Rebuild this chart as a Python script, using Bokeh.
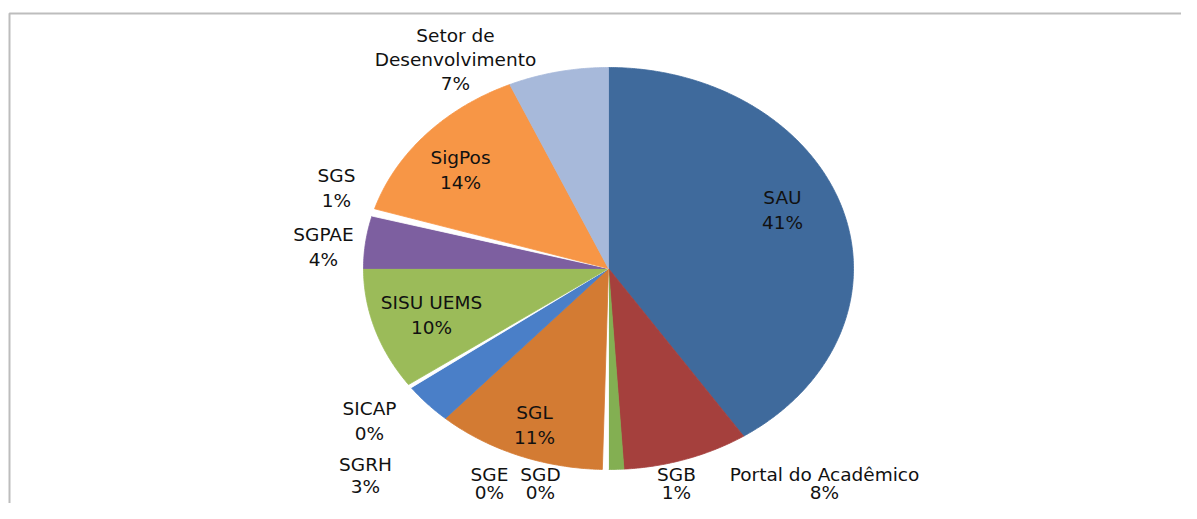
import numpy as np
from bokeh.plotting import figure
from bokeh.models import Range1d, ColumnDataSource
from bokeh.core.properties import value
from bokeh.embed import file_html
from bokeh.resources import INLINE

# ---- data ----
categories = ["SAU", "Portal do Acadêmico", "SGB", "SGD", "SGE", "SGL", "SGRH",
              "SICAP", "SISU UEMS", "SGPAE", "SGS", "SigPos", "Setor de Desenvolvimento"]
values = [40.7, 8.3, 1.0, 0.2, 0.2, 11.2, 3.3, 0.3, 9.8, 4.2, 0.6, 13.6, 6.6]

# ---- styles ----
colors = ["#3F6A9C", "#A5403D", "#83AF52", "#FFFFFF", "#FFFFFF", "#D37B33", "#4A7FC8",
          "#FFFFFF", "#9BBB59", "#7D5FA0", "#FFFFFF", "#F79646", "#A7B9DA"]

# ---- layout (picture pixel coordinates) ----
W, H = 1181, 503
cx, cy, rx, ry = 608, 268, 245, 201
label_lines = {"Setor de Desenvolvimento": ["Setor de", "Desenvolvimento"]}
label_pos = {  # (x, y of first line, line spacing)
    "SAU": (782, 197, 24.5), "Portal do Acadêmico": (824, 474, 18), "SGB": (676, 474, 18),
    "SGD": (540, 474, 18), "SGE": (489, 474, 18), "SGL": (534, 412, 24.5),
    "SGRH": (365, 464, 22), "SICAP": (369, 408, 24.5), "SISU UEMS": (431, 302, 24.5),
    "SGPAE": (323, 234, 24.5), "SGS": (336, 175, 24.5), "SigPos": (460, 157, 24.5),
    "Setor de Desenvolvimento": (455, 35, 24),
}

p = figure(width=W, height=H, output_backend="svg", toolbar_location=None,
           x_range=Range1d(0, W), y_range=Range1d(H, 0),
           min_border=0, outline_line_color=None)
p.axis.visible = False
p.grid.visible = False
p.background_fill_color = "white"

# frame border (top and left visible)
p.line([9, 9, 1300], [700, 13, 13], line_color="#BDBDBD", line_width=2)

total = sum(values)
start = 0.0
xs, ys, fills = [], [], []
for cat, v, c in zip(categories, values, colors):
    a0 = start / total * 2 * np.pi
    a1 = (start + v) / total * 2 * np.pi
    start += v
    t = np.linspace(a0, a1, max(4, int(v * 8)))
    px = np.concatenate([[cx], cx + rx * np.sin(t), [cx]])
    py = np.concatenate([[cy], cy - ry * np.cos(t), [cy]])
    xs.append(list(px)); ys.append(list(py)); fills.append(c)

src = ColumnDataSource(dict(xs=xs, ys=ys, fill=fills))
p.patches("xs", "ys", source=src, fill_color="fill", line_color="fill", line_width=0.8)

tx, ty, tt = [], [], []
for cat, v in zip(categories, values):
    lines = label_lines.get(cat, [cat]) + [f"{round(v)}%"]
    x0, y0, lh = label_pos[cat]
    for i, ln in enumerate(lines):
        tx.append(x0); ty.append(y0 + i * lh); tt.append(ln)

p.text(x=tx, y=ty, text=tt, text_align="center", text_baseline="middle",
       text_font=value("DejaVu Sans"), text_font_size="18.5px", text_color="#111111")

open("out.html", "w").write(file_html(p, INLINE))
